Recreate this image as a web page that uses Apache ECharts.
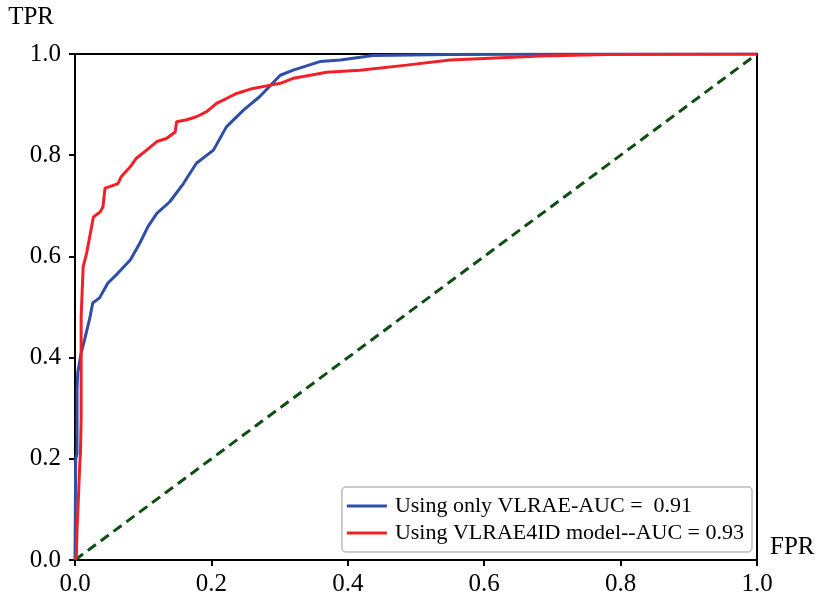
<!DOCTYPE html>
<html>
<head>
<meta charset="utf-8">
<script src="https://cdn.jsdelivr.net/npm/echarts@6/dist/echarts.min.js"></script>
<style>
  html, body { margin: 0; padding: 0; background: #fff; }
  #chart { width: 820px; height: 600px; }
</style>
</head>
<body>
<div id="chart"></div>
<script>
// ROC curve points
const blueName = "Using only VLRAE-AUC =  0.91";
const blueFpr = [0, 0.001, 0.003, 0.003, 0.004, 0.009, 0.014, 0.022, 0.026, 0.036, 0.048, 0.063, 0.081, 0.095, 0.107, 0.120, 0.139, 0.159, 0.178, 0.203, 0.222, 0.247, 0.271, 0.301, 0.320, 0.359, 0.389, 0.437, 0.55, 0.75, 1];
const blueTpr = [0, 0.20, 0.21, 0.336, 0.370, 0.409, 0.435, 0.480, 0.508, 0.518, 0.547, 0.567, 0.593, 0.626, 0.659, 0.685, 0.708, 0.744, 0.784, 0.810, 0.856, 0.889, 0.916, 0.958, 0.968, 0.985, 0.988, 0.997, 0.999, 1, 1];

const redName = "Using VLRAE4ID model--AUC = 0.93";
const redFpr = [0, 0.002, 0.003, 0.004, 0.007, 0.008, 0.009, 0.009, 0.009, 0.010, 0.012, 0.017, 0.027, 0.037, 0.041, 0.044, 0.051, 0.063, 0.068, 0.081, 0.090, 0.105, 0.120, 0.134, 0.147, 0.149, 0.164, 0.178, 0.193, 0.208, 0.222, 0.237, 0.261, 0.281, 0.301, 0.320, 0.345, 0.369, 0.418, 0.486, 0.550, 0.633, 0.682, 0.780, 1];
const redTpr = [0, 0.006, 0.06, 0.09, 0.19, 0.21, 0.28, 0.32, 0.48, 0.514, 0.580, 0.606, 0.678, 0.688, 0.698, 0.735, 0.738, 0.744, 0.758, 0.777, 0.794, 0.810, 0.827, 0.833, 0.846, 0.866, 0.870, 0.876, 0.886, 0.903, 0.912, 0.922, 0.932, 0.937, 0.942, 0.952, 0.958, 0.964, 0.968, 0.978, 0.988, 0.993, 0.996, 0.999, 1];

// chance line
const chanceFpr = [0, 1];
const chanceTpr = [0, 1];

const zip = (xs, ys) => xs.map((x, i) => [x, ys[i]]);

const font = "Liberation Serif";
const chart = echarts.init(document.getElementById("chart"));

const axisCommon = {
  type: "value",
  min: 0,
  max: 1,
  interval: 0.2,
  splitLine: { show: false },
  axisLine: { show: true, onZero: false, lineStyle: { color: "#000", width: 2 } },
  axisTick: { show: true, inside: false, length: 6, lineStyle: { color: "#000", width: 2 } },
  axisLabel: {
    color: "#000",
    fontFamily: font,
    fontSize: 25,
    formatter: (v) => v.toFixed(1),
  },
  nameTextStyle: { color: "#000", fontFamily: font, fontSize: 25 },
};

chart.setOption({
  animation: false,
  backgroundColor: "#fff",
  grid: {
    left: 75,
    right: 63,
    top: 54,
    bottom: 40,
    show: true,
    borderColor: "#000",
    borderWidth: 2,
  },
  xAxis: Object.assign({}, axisCommon, {
    name: "FPR",
    nameLocation: "end",
    nameGap: 13,
    nameTextStyle: Object.assign({}, axisCommon.nameTextStyle, {
      verticalAlign: "bottom",
    }),
    axisLabel: Object.assign({}, axisCommon.axisLabel, { margin: 12 }),
  }),
  yAxis: Object.assign({}, axisCommon, {
    name: "TPR",
    nameLocation: "end",
    nameGap: 24,
    nameTextStyle: Object.assign({}, axisCommon.nameTextStyle, {
      align: "right",
      padding: [0, 21, 0, 0],
    }),
    axisLabel: Object.assign({}, axisCommon.axisLabel, { margin: 14 }),
  }),
  legend: {
    orient: "vertical",
    right: 68,
    bottom: 48,
    data: [blueName, redName],
    icon: "rect",
    itemWidth: 40,
    itemHeight: 3,
    itemGap: 5,
    padding: [8, 8, 8, 5],
    backgroundColor: "#fff",
    borderColor: "#bbb",
    borderWidth: 1.5,
    borderRadius: 4,
    textStyle: { color: "#000", fontFamily: font, fontSize: 22, padding: [0, 0, 0, 3] },
  },
  series: [
    {
      name: "chance",
      type: "line",
      data: zip(chanceFpr, chanceTpr),
      showSymbol: false,
      lineStyle: { color: "#0d4f12", width: 3, type: [10, 6] },
      z: 1,
    },
    {
      name: blueName,
      type: "line",
      data: zip(blueFpr, blueTpr),
      showSymbol: false,
      itemStyle: { color: "#2f4ea8" },
      lineStyle: { color: "#2f4ea8", width: 3 },
      z: 2,
    },
    {
      name: redName,
      type: "line",
      data: zip(redFpr, redTpr),
      showSymbol: false,
      itemStyle: { color: "#f02028" },
      lineStyle: { color: "#f02028", width: 3 },
      z: 3,
    },
  ],
});
</script>
</body>
</html>
